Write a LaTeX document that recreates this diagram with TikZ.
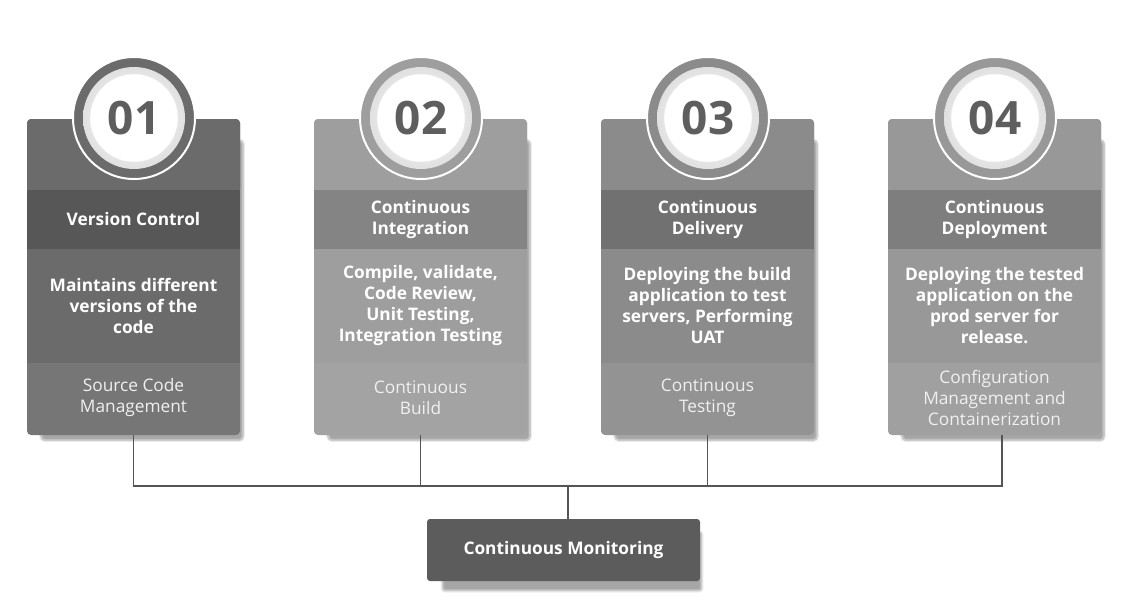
\documentclass[tikz,border=0pt]{standalone}
\usepackage{fontspec}
\setmainfont{Open Sans}
\usepackage{tikz}
\usetikzlibrary{shadows.blur}
\definecolor{topA}{HTML}{6B6B6B}
\definecolor{headA}{HTML}{575757}
\definecolor{footA}{HTML}{767676}
\definecolor{topB}{HTML}{9E9E9E}
\definecolor{headB}{HTML}{848484}
\definecolor{footB}{HTML}{A3A3A3}
\definecolor{topC}{HTML}{8B8B8B}
\definecolor{headC}{HTML}{717171}
\definecolor{footC}{HTML}{939393}
\definecolor{topD}{HTML}{989898}
\definecolor{headD}{HTML}{7E7E7E}
\definecolor{footD}{HTML}{A0A0A0}
\definecolor{monfill}{HTML}{5C5C5C}
\definecolor{numgray}{HTML}{5E5E5E}
\definecolor{linegray}{HTML}{555555}
\tikzset{card/.style={minimum width=213pt, minimum height=316pt, inner sep=0pt, rounded corners=4pt,
    blur shadow={shadow xshift=9pt, shadow yshift=-14pt, shadow opacity=35, shadow blur steps=10, shadow scale=0.95}},
  cardtop/.style={minimum width=213pt, minimum height=72pt, inner sep=0pt, rounded corners=4pt},
  band/.style={minimum width=213pt, inner sep=0pt, text=white, align=center, font=\bfseries\fontsize{17.3}{21}\selectfont},
  foot/.style={text=white!94!black, align=center, font=\fontsize{17.3}{21}\selectfont},
  ring/.style={circle, minimum size=122pt, inner sep=0pt, draw=white, line width=2pt},
  disk/.style={circle, minimum size=102pt, inner sep=0pt, inner color=white, outer color=black!12},
  num/.style={circle, minimum size=88pt, inner sep=0pt, fill=white, draw=black!8, text=numgray, font=\bfseries\fontsize{46}{46}\selectfont},
  link/.style={draw=linegray, line width=1.8pt}}

\begin{document}
\begin{tikzpicture}[x=1pt, y=-1pt]
    \path[use as bounding box] (0,0) rectangle (1135,605);

    % card 01
    \node[card, fill=footA] at (133.5,277) (C1) {};
    \node[cardtop, fill=topA] at (133.5,155) (T1) {};
    \node[band, fill=headA, minimum height=59pt] at (133.5,219.5) (H1) {Version Control};
    \node[band, fill=topA, minimum height=114pt] at (133.5,306) (D1) {Maintains different\\versions of the\\code};
    \node[foot] at (133.5,398) (F1) {Source Code\\Management};
    \node[ring, fill=topA] at (134,118) (R1) {};
    \node[disk] at (R1) (W1) {};
    \node[num] at (R1) (N1) {01};

    % card 02
    \node[card, fill=footB] at (420.5,277) (C2) {};
    \node[cardtop, fill=topB] at (420.5,155) (T2) {};
    \node[band, fill=headB, minimum height=59pt] at (420.5,219.5) (H2) {Continuous\\Integration};
    \node[band, fill=topB, minimum height=114pt] at (420.5,306) (D2) {Compile, validate,\\Code Review,\\Unit Testing,\\Integration Testing};
    \node[foot] at (420.5,398) (F2) {Continuous\\Build};
    \node[ring, fill=topB] at (421,118) (R2) {};
    \node[disk] at (R2) (W2) {};
    \node[num] at (R2) (N2) {02};

    % card 03
    \node[card, fill=footC] at (707.5,277) (C3) {};
    \node[cardtop, fill=topC] at (707.5,155) (T3) {};
    \node[band, fill=headC, minimum height=59pt] at (707.5,219.5) (H3) {Continuous\\Delivery};
    \node[band, fill=topC, minimum height=114pt] at (707.5,306) (D3) {Deploying the build\\application to test\\servers, Performing\\UAT};
    \node[foot] at (707.5,398) (F3) {Continuous\\Testing};
    \node[ring, fill=topC] at (708,118) (R3) {};
    \node[disk] at (R3) (W3) {};
    \node[num] at (R3) (N3) {03};

    % card 04
    \node[card, fill=footD] at (994.5,277) (C4) {};
    \node[cardtop, fill=topD] at (994.5,155) (T4) {};
    \node[band, fill=headD, minimum height=59pt] at (994.5,219.5) (H4) {Continuous\\Deployment};
    \node[band, fill=topD, minimum height=114pt] at (994.5,306) (D4) {Deploying the tested\\application on the\\prod server for\\release.};
    \node[foot] at (994.5,398) (F4) {Configuration\\Management and\\Containerization};
    \node[ring, fill=topD] at (995,118) (R4) {};
    \node[disk] at (R4) (W4) {};
    \node[num] at (R4) (N4) {04};

    % monitoring
    \node[band, fill=monfill, minimum width=273pt, minimum height=62pt, rounded corners=3pt,
          blur shadow={shadow xshift=9pt, shadow yshift=-12pt, shadow opacity=35, shadow blur steps=10, shadow scale=0.95}]
          at (563.5,550) (M) {Continuous Monitoring};

    \coordinate (J) at (568,486);
    \draw[link] (C1.south) |- (J);
    \draw[link] (C2.south) |- (J);
    \draw[link] (C3.south) |- (J);
    \draw[link] ([xshift=7.5pt]C4.south) |- (J);
    \draw[link] (J) -- (J |- M.north);
\end{tikzpicture}
\end{document}
